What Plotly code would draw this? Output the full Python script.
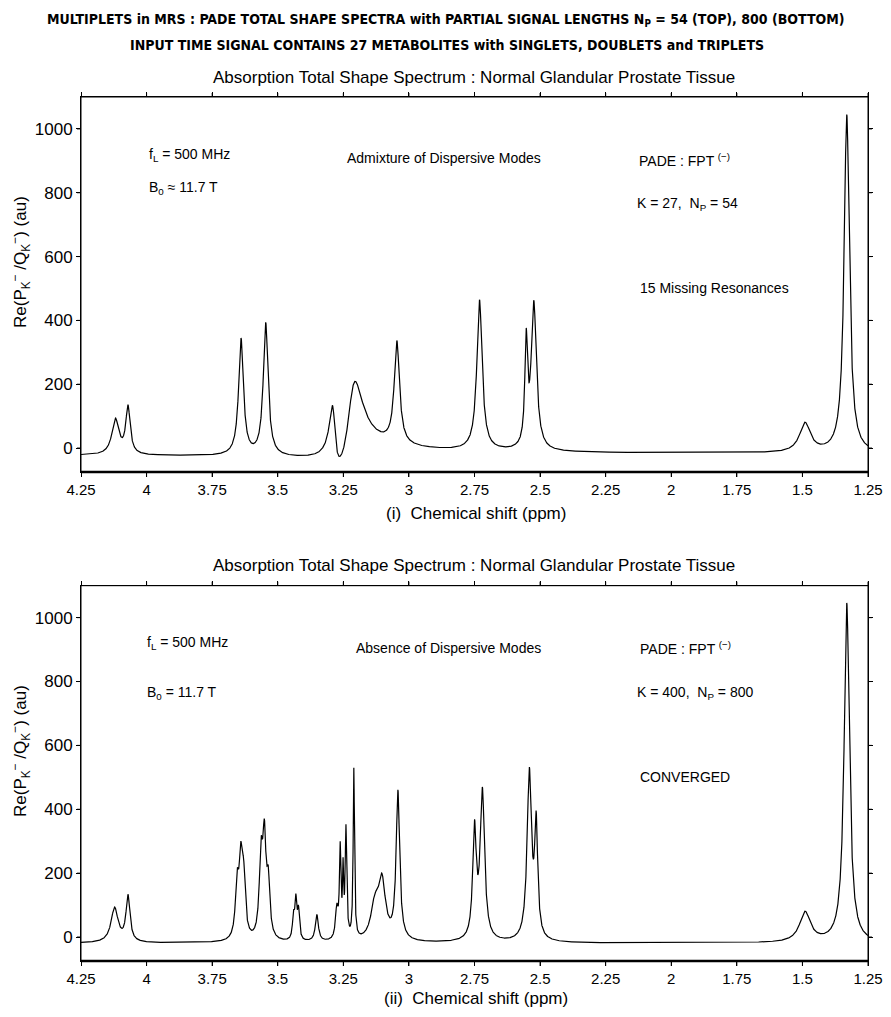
import numpy as np
import plotly.graph_objects as go

# ---------------- data ----------------
# Top panel (N_P = 54): apex position (ppm), apex height (au), half-width (ppm), phase (rad)
top_ppm    = [4.119, 4.071, 3.640, 3.546, 3.292, 3.205, 3.046, 2.731, 2.553, 2.524, 1.490, 1.331]
top_height = [94,    136,   345,   394,   134,   209,   337,   465,   376,   463,   81,    1045]
top_width  = [0.016, 0.010, 0.011, 0.011, 0.013, 0.034, 0.012, 0.012, 0.006, 0.012, 0.025, 0.012]
top_phase  = [0.0,   0.0,   0.0,   0.0,   0.55,  -0.65, 0.0,   0.0,   0.0,   0.0,   0.0,   0.0]
top_base   = -19

# Bottom panel (N_P = 800)
bot_ppm    = [4.122, 4.071, 3.655, 3.641, 3.630, 3.564, 3.551, 3.536, 3.440, 3.431, 3.421,
              3.351, 3.275, 3.262, 3.251, 3.240, 3.210, 3.130, 3.103, 3.042, 2.750, 2.720,
              2.541, 2.515, 1.490, 1.331]
bot_height = [94,    134,   214,   300,   245,   313,   370,   222,   86,    136,   100,
              71,    106,   300,   250,   353,   530,   136,   200,   461,   368,   470,
              532,   395,   81,    1046]
bot_width  = [0.016, 0.009, 0.0075, 0.0075, 0.0075, 0.0075, 0.0075, 0.007, 0.0045, 0.0045, 0.0045,
              0.007, 0.006, 0.0035, 0.0025, 0.0035, 0.003, 0.018, 0.016, 0.008, 0.008, 0.010,
              0.010, 0.007, 0.025, 0.012]
bot_phase  = [0.0] * len(bot_ppm)
bot_base   = -19

x_tickvals = [4.25, 4.0, 3.75, 3.5, 3.25, 3.0, 2.75, 2.5, 2.25, 2.0, 1.75, 1.5, 1.25]
x_ticktext = ["4.25", "4", "3.75", "3.5", "3.25", "3", "2.75", "2.5", "2.25", "2", "1.75", "1.5", "1.25"]
y_tickvals = [0, 200, 400, 600, 800, 1000]


def shape(x, x0, g, phi):
    u = (x - x0) / g
    return (np.cos(phi) + u * np.sin(phi)) / (1 + u ** 2)


def spectrum(x, apex, height, width, phase, base):
    apex = np.asarray(apex, float)
    width = np.asarray(width, float)
    phase = np.asarray(phase, float)
    centres = apex - width * np.tan(phase / 2)
    M = np.array([[shape(xa, c, g, p) for c, g, p in zip(centres, width, phase)] for xa in apex])
    amp = np.linalg.solve(M, np.asarray(height, float) - base)
    y = np.full_like(x, base, dtype=float)
    for a, c, g, p in zip(amp, centres, width, phase):
        y += a * shape(x, c, g, p)
    return y


x = np.linspace(4.25, 1.25, 12001)
y_top = spectrum(x, top_ppm, top_height, top_width, top_phase, top_base)
y_bot = spectrum(x, bot_ppm, bot_height, bot_width, bot_phase, bot_base)

# ---------------- figure ----------------
OFF = 8                      # page body margin
W, H = 875, 1001
L, R, T, B = 73, 15, 89, 48
PW, PH = W - L - R, H - T - B


def px(xp):                  # page pixel -> paper
    return (xp - OFF - L) / PW


def py(yp):
    return (H - B - (yp - OFF)) / PH


FONT = "Liberation Sans, Arial, sans-serif"
fig = go.Figure()
fig.add_trace(go.Scatter(x=x, y=y_top, mode="lines", line=dict(color="black", width=1.2),
                         xaxis="x", yaxis="y", showlegend=False, hoverinfo="skip"))
fig.add_trace(go.Scatter(x=x, y=y_bot, mode="lines", line=dict(color="black", width=1.2),
                         xaxis="x2", yaxis="y2", showlegend=False, hoverinfo="skip"))

TL = 4
axcommon = dict(showline=True, linecolor="black", linewidth=1, mirror="ticks", ticks="outside",
                ticklen=TL, tickcolor="black", tickwidth=1, showgrid=False, zeroline=False)
xax = dict(axcommon, range=[4.25, 1.25], tickvals=x_tickvals, ticktext=x_ticktext,
           tickfont=dict(family=FONT, size=15, color="black"))
yax = dict(axcommon, range=[-75, 1100], tickvals=y_tickvals,
           tickfont=dict(family=FONT, size=17, color="black"))

top_dom = [py(472), py(97)]
bot_dom = [py(961), py(585.7)]

fig.update_layout(
    width=W, height=H, margin=dict(l=L, r=R, t=T, b=B, autoexpand=False),
    paper_bgcolor="white", plot_bgcolor="white",
    xaxis=dict(xax, anchor="y", domain=[0, 1]),
    yaxis=dict(yax, domain=top_dom, anchor="x"),
    xaxis2=dict(xax, anchor="y2", domain=[0, 1]),
    yaxis2=dict(yax, domain=bot_dom, anchor="x2"),
)

# frame box, thicker bottom axis line and outside ticks on all four sides
tick_line = dict(color="black", width=1)
for xa, ya in [("x", "y"), ("x2", "y2")]:
    xd, yd = xa + " domain", ya + " domain"
    fig.add_shape(type="rect", xref=xd, yref=yd, x0=0, x1=1, y0=0, y1=1,
                  line=dict(color="black", width=1))
    fig.add_shape(type="line", xref=xd, yref=yd, x0=0, x1=1, y0=0, y1=0,
                  line=dict(color="black", width=2.5))
    for tv in x_tickvals:
        fig.add_shape(type="line", xref=xa, yref=yd, x0=tv, x1=tv, ysizemode="pixel",
                      yanchor=1, y0=0, y1=TL, line=tick_line)
        fig.add_shape(type="line", xref=xa, yref=yd, x0=tv, x1=tv, ysizemode="pixel",
                      yanchor=0, y0=-TL - 1, y1=0, line=tick_line)
    for tv in y_tickvals:
        fig.add_shape(type="line", xref=xd, yref=ya, y0=tv, y1=tv, xsizemode="pixel",
                      xanchor=1, x0=0, x1=TL, line=tick_line)
        fig.add_shape(type="line", xref=xd, yref=ya, y0=tv, y1=tv, xsizemode="pixel",
                      xanchor=0, x0=-TL, x1=0, line=tick_line)


def ann(text, xp, yp, size=14, bold=False, xanchor="left", family=FONT, angle=0):
    fig.add_annotation(text=("<b>%s</b>" % text) if bold else text, xref="paper", yref="paper",
                       x=px(xp), y=py(yp), xanchor=xanchor, yanchor="middle", showarrow=False,
                       textangle=angle, font=dict(family=family, size=size, color="black"))


NARROW = "Liberation Sans Narrow, DejaVu Sans Condensed, Liberation Sans, Arial, sans-serif"
ann("MULTIPLETS in MRS : PADE TOTAL SHAPE SPECTRA with PARTIAL SIGNAL LENGTHS N<sub>P</sub> = 54 (TOP), 800 (BOTTOM)",
    446, 20, size=14, bold=True, xanchor="center", family=NARROW)
ann("INPUT TIME SIGNAL CONTAINS 27 METABOLITES with SINGLETS, DOUBLETS and TRIPLETS",
    447, 45, size=14, bold=True, xanchor="center", family=NARROW)
ann("Absorption Total Shape Spectrum : Normal Glandular Prostate Tissue", 474, 77, size=17, xanchor="center")
ann("Absorption Total Shape Spectrum : Normal Glandular Prostate Tissue", 474, 565, size=17, xanchor="center")

ytitle = "Re(P<sub>K</sub><sup>−</sup> /Q<sub>K</sub><sup>−</sup>) (au)"
ann(ytitle, 20, 262, size=17, xanchor="center", angle=-90)
ann(ytitle, 20, 751, size=17, xanchor="center", angle=-90)
ann("(i)  Chemical shift (ppm)", 476, 513, size=17, xanchor="center")
ann("(ii)  Chemical shift (ppm)", 476, 998, size=17, xanchor="center")

# top panel texts
ann("f<sub>L</sub> = 500 MHz", 147, 155)
ann("B<sub>0</sub> ≈ 11.7 T", 147, 188)
ann("Admixture of Dispersive Modes", 444, 158, xanchor="center")
ann("PADE : FPT <sup>(−)</sup>", 637, 160)
ann("K = 27,  N<sub>P</sub> = 54", 635, 204)
ann("15 Missing Resonances", 638, 288)

# bottom panel texts
ann("f<sub>L</sub> = 500 MHz", 145, 643)
ann("B<sub>0</sub> = 11.7 T", 145, 693)
ann("Absence of Dispersive Modes", 448, 648, xanchor="center")
ann("PADE : FPT <sup>(−)</sup>", 638, 648)
ann("K = 400,  N<sub>P</sub> = 800", 635, 693)
ann("CONVERGED", 638, 777)

fig.write_html("out.html")
